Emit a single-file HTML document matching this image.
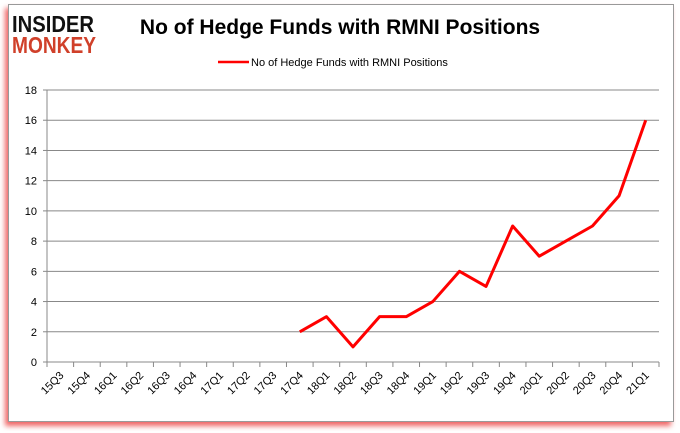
<!DOCTYPE html>
<html><head><meta charset="utf-8"><style>
body{margin:0;background:#fff;width:680px;height:433px;overflow:hidden;font-family:"Liberation Sans",sans-serif}
#card{position:absolute;left:8px;top:4px;width:664px;height:416px;border:1px solid #999;background:#fff;box-shadow:-3px 4px 5px rgba(230,0,0,0.6)}
</style></head><body>
<div id="card"></div>
<svg width="680" height="433" style="position:absolute;left:0;top:0">
<g font-family="Liberation Sans,sans-serif" font-weight="bold">
<text x="12" y="32" font-size="23" fill="#111" textLength="82" lengthAdjust="spacingAndGlyphs">INSIDER</text>
<text x="12" y="53" font-size="23" fill="#d0402a" textLength="84" lengthAdjust="spacingAndGlyphs">MONKEY</text>
</g>
<text x="340" y="34" text-anchor="middle" font-size="21" font-weight="bold" fill="#000">No of Hedge Funds with RMNI Positions</text>
<line x1="218" y1="62" x2="249" y2="62" stroke="red" stroke-width="2.5"/>
<text x="251" y="66" font-size="11" fill="#000">No of Hedge Funds with RMNI Positions</text>
<g id="grid"></g><g id="axes"></g><g id="series"></g>
</svg>
<script>
const categories=["15Q3","15Q4","16Q1","16Q2","16Q3","16Q4","17Q1","17Q2","17Q3","17Q4","18Q1","18Q2","18Q3","18Q4","19Q1","19Q2","19Q3","19Q4","20Q1","20Q2","20Q3","20Q4","21Q1"];
const values=[null,null,null,null,null,null,null,null,null,2,3,1,3,3,4,6,5,9,7,8,9,11,16];
const yTicks=[0,2,4,6,8,10,12,14,16,18];
const NS="http://www.w3.org/2000/svg";
const L=47,R=659,T=90,B=362,yMax=18;
const bw=(R-L)/categories.length;
const xS=i=>L+bw*(i+0.5), yS=v=>B-(v/yMax)*(B-T);
function mk(tag,attrs,parent){const e=document.createElementNS(NS,tag);for(const k in attrs)e.setAttribute(k,attrs[k]);document.getElementById(parent).appendChild(e);return e;}
yTicks.forEach(v=>{
 const g=mk('line',{x1:L,x2:R,y1:yS(v),y2:yS(v),stroke:'#888','stroke-width':1},'grid');
 
 
 const t=mk('text',{x:L-10,y:yS(v)+4,'text-anchor':'end','font-size':11,fill:'#000'},'axes');
 t.textContent=v;
 
 
 mk('line',{x1:L-4,x2:L,y1:yS(v),y2:yS(v),stroke:'#888'},'axes');
});
mk('line',{x1:L,x2:L,y1:T,y2:B,stroke:'#888'},'axes');
for(let i=0;i<=categories.length;i++){mk('line',{x1:L+bw*i,x2:L+bw*i,y1:B,y2:B+5,stroke:'#888'},'axes');}
categories.forEach((c,i)=>{
 const x=xS(i)+4,y=B+14;
 const t=mk('text',{x:x,y:y,'text-anchor':'end','font-size':11,fill:'#000',transform:`rotate(-45 ${x} ${y})`},'axes');
 t.textContent=c;
 
 
});
let d='';values.forEach((v,i)=>{if(v==null)return;d+=(d?'L':'M')+xS(i)+' '+yS(v);});
const p=mk('path',{d:d,fill:'none',stroke:'red','stroke-width':3,'stroke-linejoin':'round'},'series');


</script>
</body></html>
